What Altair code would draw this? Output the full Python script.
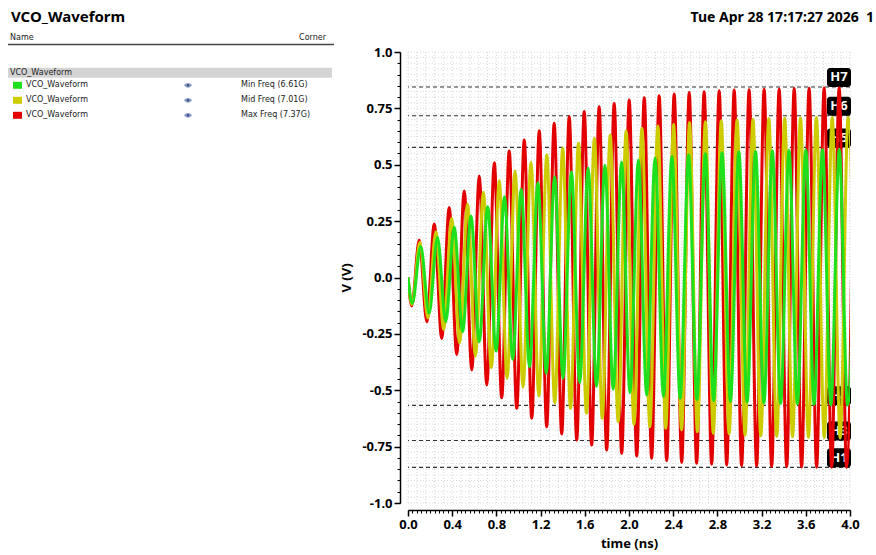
import altair as alt
import pandas as pd

# ---------------- data ----------------
# Max Freq (7.37G) -- red
red_peak_t = [0.102, 0.238, 0.373, 0.509, 0.645, 0.781, 0.916, 1.052, 1.188, 1.323,
              1.459, 1.595, 1.730, 1.866, 2.002, 2.138, 2.273, 2.409, 2.545, 2.680,
              2.816, 2.952, 3.087, 3.223, 3.359, 3.495, 3.630, 3.766, 3.902, 4.037]
red_peak_v = [0.166, 0.237, 0.310, 0.384, 0.450, 0.509, 0.561, 0.610, 0.651, 0.684,
              0.713, 0.736, 0.757, 0.772, 0.787, 0.797, 0.806, 0.814, 0.820, 0.824,
              0.828, 0.831, 0.833, 0.835, 0.836, 0.838, 0.839, 0.840, 0.841, 0.842]
red_trough_t = [0.034, 0.170, 0.305, 0.441, 0.577, 0.713, 0.848, 0.984, 1.120, 1.255,
                1.391, 1.527, 1.662, 1.798, 1.934, 2.070, 2.205, 2.341, 2.477, 2.612,
                2.748, 2.884, 3.019, 3.155, 3.291, 3.427, 3.562, 3.698, 3.834, 3.969]
red_trough_v = [-0.126, -0.196, -0.270, -0.341, -0.410, -0.477, -0.533, -0.580, -0.624, -0.662,
                -0.694, -0.721, -0.743, -0.765, -0.780, -0.792, -0.802, -0.812, -0.820, -0.824,
                -0.828, -0.831, -0.834, -0.836, -0.838, -0.839, -0.840, -0.841, -0.841, -0.842]

# Mid Freq (7.01G) -- yellow
yel_peak_t = [0.108, 0.252, 0.395, 0.539, 0.682, 0.826, 0.969, 1.113, 1.256, 1.400,
              1.543, 1.687, 1.830, 1.974, 2.117, 2.261, 2.404, 2.548, 2.691, 2.835,
              2.978, 3.122, 3.265, 3.409, 3.552, 3.696, 3.839, 3.983]
yel_peak_v = [0.156, 0.203, 0.262, 0.325, 0.378, 0.429, 0.472, 0.511, 0.543, 0.573,
              0.595, 0.617, 0.632, 0.650, 0.662, 0.672, 0.679, 0.687, 0.691, 0.695,
              0.698, 0.702, 0.704, 0.706, 0.707, 0.709, 0.710, 0.711]
yel_trough_t = [0.036, 0.180, 0.323, 0.467, 0.610, 0.754, 0.897, 1.041, 1.184, 1.328,
                1.471, 1.615, 1.758, 1.902, 2.045, 2.189, 2.332, 2.476, 2.619, 2.763,
                2.906, 3.050, 3.193, 3.337, 3.480, 3.624, 3.767, 3.911, 4.054]
yel_trough_v = [-0.120, -0.180, -0.230, -0.289, -0.348, -0.400, -0.447, -0.487, -0.525, -0.555,
                -0.580, -0.602, -0.624, -0.639, -0.651, -0.662, -0.669, -0.676, -0.684, -0.691,
                -0.694, -0.698, -0.702, -0.704, -0.706, -0.708, -0.710, -0.712, -0.713]

# Min Freq (6.61G) -- green
grn_peak_t = [0.115, 0.267, 0.418, 0.570, 0.721, 0.873, 1.024, 1.176, 1.327, 1.479,
              1.630, 1.782, 1.933, 2.085, 2.236, 2.388, 2.539, 2.691, 2.842, 2.994,
              3.145, 3.297, 3.448, 3.600, 3.751, 3.903, 4.054]
grn_peak_v = [0.137, 0.178, 0.223, 0.273, 0.314, 0.358, 0.391, 0.420, 0.447, 0.469,
              0.486, 0.498, 0.512, 0.521, 0.530, 0.537, 0.543, 0.549, 0.553, 0.557,
              0.559, 0.561, 0.563, 0.565, 0.566, 0.567, 0.568]
grn_trough_t = [0.039, 0.191, 0.342, 0.494, 0.645, 0.797, 0.948, 1.100, 1.251, 1.403,
                1.554, 1.706, 1.857, 2.009, 2.160, 2.312, 2.463, 2.615, 2.766, 2.918,
                3.069, 3.221, 3.372, 3.524, 3.675, 3.827, 3.978]
grn_trough_v = [-0.114, -0.159, -0.196, -0.240, -0.285, -0.326, -0.363, -0.396, -0.425, -0.447,
                -0.466, -0.484, -0.496, -0.511, -0.521, -0.529, -0.536, -0.541, -0.545, -0.549,
                -0.552, -0.555, -0.558, -0.560, -0.562, -0.564, -0.565]

start_t = [0.0]
start_v = [0.0]

chart_title = "VCO_Waveform"
date_text = "Tue Apr 28 17:17:27 2026\u00a0\u00a01"
legend_group = "VCO_Waveform"
legend_names = ["VCO_Waveform", "VCO_Waveform", "VCO_Waveform"]
corner_labels = ["Min Freq (6.61G)", "Mid Freq (7.01G)", "Max Freq (7.37G)"]
series_colors = ["#1ee11e", "#cccc00", "#e30000"]

marker_labels = ["H7", "H6", "H5", "H4", "H3", "H1"]
marker_values = [0.845, 0.717, 0.577, -0.567, -0.723, -0.842]

x_major = [0.0, 0.4, 0.8, 1.2, 1.6, 2.0, 2.4, 2.8, 3.2, 3.6, 4.0]
y_major = [-1.0, -0.75, -0.5, -0.25, 0.0, 0.25, 0.5, 0.75, 1.0]
x_minor = [round(i * 0.04, 2) for i in range(101)]
y_minor = [round(-1 + i * 0.05, 2) for i in range(41)]
x_grid = [round(i * 0.08, 2) for i in range(51)]
y_grid = [round(-1 + i * 0.025, 3) for i in range(81)]

# ---------------- build ----------------
FONT = "Noto Sans"
SMALL = "DejaVu Sans"
W, H = 442, 451

x_scale = alt.Scale(domain=[0, 4], nice=False, zero=False)
y_scale = alt.Scale(domain=[-1, 1], nice=False, zero=False)


def wave(pt, pv, tt, tv):
    df = pd.DataFrame({"t": start_t + pt + tt, "v": start_v + pv + tv})
    return df.sort_values("t").reset_index(drop=True)


y_label_expr = ("replace(format(datum.value, abs(datum.value) % 0.5 == 0 ? '.1f' : '.2f'), "
                "'\u2212', '-')")

x_axis = alt.Axis(values=x_major, format=".1f", orient="bottom", offset=7, grid=False,
                  domainColor="black", domainWidth=1.5, tickColor="black", tickWidth=1.5,
                  tickSize=6, labelFont=FONT, labelFontWeight="bold", labelFontSize=13,
                  labelColor="black", labelPadding=2, labelFlush=False, labelOverlap=False,
                  titleFont=FONT, titleFontWeight="bold", titleFontSize=13,
                  titleColor="black", titlePadding=6)
y_axis = alt.Axis(values=y_major, labelExpr=y_label_expr, orient="left", offset=8, grid=False,
                  domainColor="black", domainWidth=1.5, tickColor="black", tickWidth=1.5,
                  tickSize=6, labelFont=FONT, labelFontWeight="bold", labelFontSize=13,
                  labelColor="black", labelPadding=2, labelFlush=False, labelOverlap=False,
                  titleFont=FONT, titleFontWeight="bold", titleFontSize=13,
                  titleColor="black", titlePadding=8)

x_axis_minor = alt.Axis(values=x_minor, labels=False, domain=False, grid=False, tickSize=3,
                        tickColor="black", tickWidth=1, offset=7, orient="bottom")
y_axis_minor = alt.Axis(values=y_minor, labels=False, domain=False, grid=False, tickSize=3,
                        tickColor="black", tickWidth=1, offset=8, orient="left")

vgrid = alt.Chart(pd.DataFrame({"g": x_grid})).mark_rule(
    color="#d6d6d6", strokeDash=[1, 2], strokeWidth=1).encode(
    x=alt.X("g:Q", scale=x_scale, axis=x_axis_minor, title=None))
hgrid = alt.Chart(pd.DataFrame({"g": y_grid})).mark_rule(
    color="#dcdcdc", strokeDash=[1, 2], strokeWidth=1).encode(
    y=alt.Y("g:Q", scale=y_scale, axis=y_axis_minor, title=None))

hdf = pd.DataFrame({"label": marker_labels, "h": marker_values})
hrule = alt.Chart(hdf).mark_rule(color="#333333", strokeDash=[4, 3], strokeWidth=1.1).encode(
    y=alt.Y("h:Q", scale=y_scale, axis=None))
hbox = alt.Chart(hdf).mark_rect(color="black", cornerRadius=3, y2Offset=-19).encode(
    x=alt.value(419), x2=alt.value(443),
    y=alt.Y("h:Q", scale=y_scale, axis=None), y2=alt.Y2("h"))
htext = alt.Chart(hdf).mark_text(color="white", font=FONT, fontWeight="bold", fontSize=13,
                                 align="center", baseline="middle", dy=-9.5).encode(
    x=alt.value(431), y=alt.Y("h:Q", scale=y_scale, axis=None), text="label:N")


def line_layer(df, color, with_axis):
    xa = x_axis if with_axis else None
    ya = y_axis if with_axis else None
    return alt.Chart(df).mark_line(interpolate="monotone", clip=True, strokeWidth=3,
                                   color=color).encode(
        x=alt.X("t:Q", scale=x_scale, axis=xa, title="time (ns)"),
        y=alt.Y("v:Q", scale=y_scale, axis=ya, title="V (V)"))


red_line = line_layer(wave(red_peak_t, red_peak_v, red_trough_t, red_trough_v), series_colors[2], True)
yel_line = line_layer(wave(yel_peak_t, yel_peak_v, yel_trough_t, yel_trough_v), series_colors[1], False)
grn_line = line_layer(wave(grn_peak_t, grn_peak_v, grn_trough_t, grn_trough_v), series_colors[0], False)

# ---------------- header and legend panel (left of the plot) ----------------
one = pd.DataFrame({"a": [0]})
title_txt = alt.Chart(one).mark_text(text=chart_title, font=FONT, fontWeight="bold", fontSize=15,
                                     align="left", baseline="alphabetic", color="black").encode(
    x=alt.value(-397), y=alt.value(-30))
date_txt = alt.Chart(one).mark_text(text=date_text, font=FONT, fontWeight="bold", fontSize=14,
                                    align="right", baseline="alphabetic", color="black").encode(
    x=alt.value(466), y=alt.value(-30))
name_hdr = alt.Chart(one).mark_text(text="Name", font=SMALL, fontSize=8, align="left",
                                    baseline="middle", color="#222222").encode(
    x=alt.value(-398), y=alt.value(-14))
corner_hdr = alt.Chart(one).mark_text(text="Corner", font=SMALL, fontSize=8, align="right",
                                      baseline="middle", color="#222222").encode(
    x=alt.value(-82), y=alt.value(-14))
hdr_line = alt.Chart(one).mark_rule(color="#444444", strokeWidth=1.5).encode(
    x=alt.value(-400), x2=alt.value(-74), y=alt.value(-7.5))
band = alt.Chart(one).mark_rect(color="#d4d4d4").encode(
    x=alt.value(-400), x2=alt.value(-76), y=alt.value(15.7), y2=alt.value(25.7))
band_txt = alt.Chart(one).mark_text(text=legend_group, font=SMALL, fontSize=8, align="left",
                                    baseline="middle", color="#222222").encode(
    x=alt.value(-398), y=alt.value(20.9))

rows = pd.DataFrame({"idx": list(range(len(legend_names))), "name": legend_names,
                     "corner": corner_labels, "color": series_colors})
rows_base = alt.Chart(rows).transform_calculate(
    yp="33.3 + 15 * datum.idx", y0="datum.yp - 3.5", y1="datum.yp + 3.5")
row_sq = rows_base.mark_rect().encode(
    x=alt.value(-395), x2=alt.value(-386),
    y=alt.Y("y0:Q", scale=None), y2=alt.Y2("y1"),
    color=alt.Color("color:N", scale=None))
row_name = rows_base.mark_text(font=SMALL, fontSize=8, align="left", baseline="middle",
                               color="#222222").encode(
    x=alt.value(-382), y=alt.Y("yp:Q", scale=None), text="name:N")
row_corner = rows_base.mark_text(font=SMALL, fontSize=8, align="left", baseline="middle",
                                 color="#222222").encode(
    x=alt.value(-167), y=alt.Y("yp:Q", scale=None), text="corner:N")
eye_path = "M -1 0 C -0.5 -0.8 0.5 -0.8 1 0 C 0.5 0.8 -0.5 0.8 -1 0 Z"
row_eye = rows_base.mark_point(shape=eye_path, filled=True, size=64, color="#8ea0c8",
                               opacity=1).encode(
    x=alt.value(-220), y=alt.Y("yp:Q", scale=None))
row_pupil = rows_base.mark_point(shape="circle", filled=True, size=6, color="#3d5280",
                                 opacity=1).encode(
    x=alt.value(-220), y=alt.Y("yp:Q", scale=None))

chart = alt.layer(
    vgrid, hgrid, hrule, hbox, htext, red_line, yel_line, grn_line,
    title_txt, date_txt, name_hdr, corner_hdr, hdr_line, band, band_txt,
    row_sq, row_name, row_corner, row_eye, row_pupil,
).resolve_axis(x="independent", y="independent").properties(
    width=W, height=H,
    padding={"left": 408, "top": 52, "right": 26, "bottom": 52},
    autosize=alt.AutoSizeParams(type="none"),
    background="white",
).configure_view(strokeWidth=0)

chart.save("out.html", embed_options={"renderer": "svg", "actions": False})
